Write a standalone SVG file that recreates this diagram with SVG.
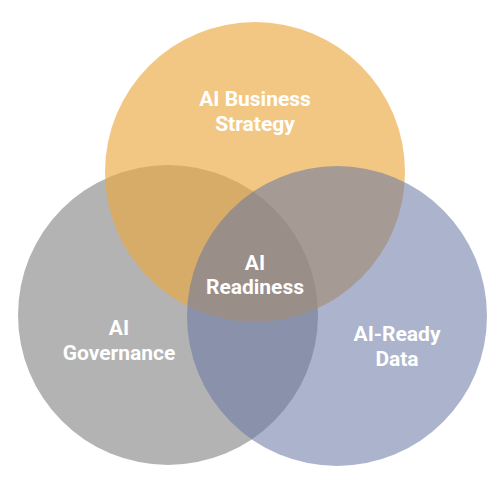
<svg xmlns="http://www.w3.org/2000/svg" width="500" height="500" viewBox="0 0 500 500">
<style>
.c{opacity:0.65}
.t{font-family:Roboto,"Liberation Sans",sans-serif;font-weight:700;font-size:21px;fill:#ffffff;text-anchor:middle}
</style>
<rect width="500" height="500" fill="#ffffff"/>
<g id="governance">
<circle class="c" cx="168" cy="315" r="150" fill="#8a8a8a"/>
</g>
<g id="strategy">
<circle class="c" cx="255" cy="172" r="150" fill="#eba942"/>
</g>
<g id="data">
<circle cx="337" cy="316" r="150" fill="#6677a2" opacity="0.55"/>
</g>
<g id="labels">
<text class="t" x="255" y="106">AI Business</text>
<text class="t" x="255" y="131">Strategy</text>
<text class="t" x="119" y="335">AI</text>
<text class="t" x="119" y="360">Governance</text>
<text class="t" x="255" y="270">AI</text>
<text class="t" x="255" y="294">Readiness</text>
<text class="t" x="397" y="341">AI-Ready</text>
<text class="t" x="397" y="366">Data</text>
</g>
<g id="connectors"></g>
</svg>
